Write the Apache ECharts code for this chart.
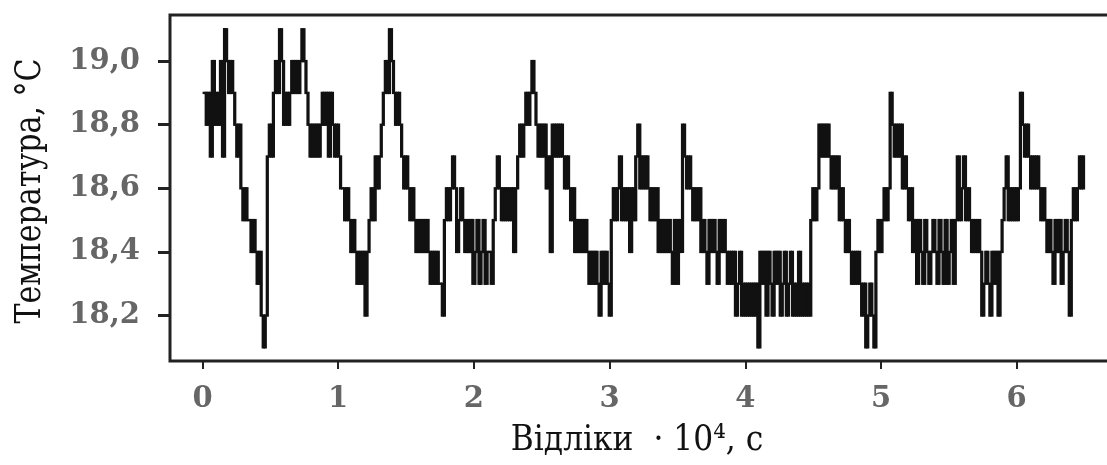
<!DOCTYPE html>
<html>
<head>
<meta charset="utf-8">
<script src="https://cdn.jsdelivr.net/npm/echarts@6/dist/echarts.min.js"></script>
<style>
  html, body { margin: 0; background: #fff; overflow: hidden; }
  /* wider than the window: the plot's right side runs past the edge */
  #chart { width: 1127px; height: 465px; }
</style>
</head>
<body>
<div id="chart"></div>
<script>
// x ticks (samples · 10^4, s) and y ticks (°C)
const xTicks = [0, 1, 2, 3, 4, 5, 6]
const yTicks = [18.2, 18.4, 18.6, 18.8, 19.0]

// readings are evenly spaced, first one at startTime
const startTime = 0.005
const sampleStep = 0.015

// temperature readings, °C (quantised to 0.1)
const temperature = [
  18.9, 18.8, 18.9, 18.7, 19.0, 18.8, 18.9, 18.8, 19.0, 18.7,
  19.1,
  19.0, 18.9, 19.0, 18.9,
  18.8, 18.7, 18.8,
  18.6, 18.5, 18.6, 18.5,
  18.5, 18.4, 18.5, 18.4,
  18.3, 18.4, 18.2, 18.1, 18.2,
  18.7, 18.8, 18.7,
  18.9, 19.0, 18.9, 19.1, 19.0,
  18.8, 18.9, 18.8, 18.9,
  19.0, 18.9, 19.0, 18.9, 19.0, 19.1,
  19.0, 18.9, 18.8,
  18.7, 18.8, 18.7, 18.8, 18.7,
  18.8, 18.9, 18.8, 18.9, 18.7, 18.9, 18.8,
  18.7, 18.8, 18.7, 18.6,
  18.6, 18.5, 18.6, 18.5,
  18.4, 18.5, 18.4,
  18.3, 18.4, 18.3, 18.4, 18.2,
  18.4, 18.5, 18.6, 18.5,
  18.7, 18.6, 18.7, 18.8,
  18.9, 19.0, 18.9, 19.1, 19.0,
  18.9, 18.8, 18.9, 18.8,
  18.7, 18.6, 18.7,
  18.6, 18.5, 18.6,
  18.5, 18.4, 18.5, 18.4, 18.5, 18.4, 18.5,
  18.4, 18.3, 18.4, 18.3, 18.4, 18.3,
  18.3, 18.2,
  18.5, 18.6, 18.5, 18.6,
  18.7,
  18.6, 18.4, 18.5, 18.6,
  18.5, 18.4, 18.5, 18.4, 18.5, 18.3, 18.4, 18.5, 18.3, 18.4, 18.5, 18.3, 18.4, 18.4,
  18.3,
  18.5, 18.6, 18.7, 18.6, 18.5,
  18.6, 18.5, 18.6, 18.5, 18.6, 18.4,
  18.6, 18.7, 18.8, 18.7,
  18.8, 18.9, 18.8, 18.9, 19.0, 18.9, 18.8,
  18.7, 18.8, 18.7, 18.8,
  18.6, 18.7,
  18.4,
  18.8, 18.7, 18.8, 18.7, 18.8, 18.7,
  18.6, 18.7, 18.6,
  18.5, 18.6, 18.4, 18.5,
  18.4, 18.5, 18.4, 18.5, 18.4, 18.3, 18.4, 18.3,
  18.4, 18.3, 18.2, 18.4, 18.3, 18.4, 18.3, 18.2,
  18.5, 18.6, 18.5, 18.6, 18.7, 18.5, 18.6, 18.5, 18.6, 18.4, 18.6, 18.5,
  18.7, 18.8, 18.6, 18.7, 18.6, 18.7, 18.6, 18.5, 18.6, 18.5, 18.6,
  18.4, 18.5, 18.4, 18.5, 18.4, 18.5, 18.4, 18.3, 18.5, 18.3,
  18.5, 18.4, 18.8,
  18.7, 18.6, 18.7, 18.6,
  18.5, 18.6, 18.5, 18.6,
  18.4, 18.5, 18.4, 18.3, 18.5, 18.4, 18.5, 18.4, 18.3, 18.5, 18.4, 18.5,
  18.4, 18.3, 18.4, 18.3, 18.4, 18.2, 18.3, 18.4, 18.2, 18.3,
  18.2, 18.3, 18.2, 18.3, 18.2, 18.3, 18.1,
  18.4, 18.3, 18.4, 18.2, 18.4, 18.3, 18.2, 18.4, 18.3, 18.4, 18.2, 18.3, 18.4,
  18.2, 18.3, 18.4, 18.2, 18.3, 18.2, 18.4, 18.2, 18.3, 18.2, 18.3, 18.2,
  18.5, 18.6, 18.5, 18.6,
  18.8, 18.7, 18.8, 18.7, 18.8, 18.7,
  18.6, 18.7, 18.6, 18.7,
  18.5, 18.6, 18.5,
  18.4, 18.5, 18.4,
  18.3, 18.4, 18.3, 18.4, 18.3,
  18.2, 18.3, 18.1, 18.2, 18.3, 18.2, 18.1,
  18.4, 18.5, 18.4, 18.5,
  18.6, 18.5, 18.6,
  18.9,
  18.8, 18.7, 18.8, 18.7, 18.8,
  18.6, 18.7, 18.6,
  18.5, 18.6,
  18.4, 18.5, 18.3, 18.5, 18.4, 18.3, 18.5, 18.4, 18.3, 18.4, 18.5,
  18.4, 18.3, 18.5, 18.4, 18.3, 18.5, 18.3, 18.4, 18.5, 18.3, 18.5,
  18.7, 18.5, 18.6, 18.7,
  18.5, 18.6, 18.5, 18.4, 18.5,
  18.4, 18.5, 18.4,
  18.2, 18.3, 18.4, 18.3, 18.2, 18.4, 18.3, 18.4, 18.2,
  18.4, 18.5,
  18.6, 18.7, 18.5, 18.6, 18.5, 18.6, 18.5, 18.6,
  18.9, 18.8, 18.7, 18.8, 18.7,
  18.6, 18.7, 18.6, 18.7, 18.6,
  18.5, 18.6, 18.5,
  18.4, 18.5, 18.4, 18.3, 18.5, 18.4, 18.5, 18.3, 18.4, 18.5, 18.4, 18.2,
  18.5, 18.6, 18.5,
  18.6, 18.7, 18.6, 18.7
]

const xTitle = 'Відліки  · 10⁴, с'
const yTitle = 'Температура, °С'

// [time, reading, previous reading] -> one step of the trace per sample
const points = temperature.map((v, i) => [
  startTime + i * sampleStep,
  v,
  i > 0 ? temperature[i - 1] : v,
])

const labelFont = {
  color: '#666',
  fontFamily: 'DejaVu Serif',
  fontWeight: 'bold',
  fontSize: 29,
}

// draws the vertical jump into the sample and the flat run after it
function renderStep(params, api) {
  const t = api.value(0)
  const v = api.value(1)
  const prev = api.value(2)
  const top = api.coord([t, Math.max(v, prev)])
  const bottom = api.coord([t, Math.min(v, prev)])
  const w = api.size([sampleStep, 0])[0]
  return {
    type: 'rect',
    shape: {
      x: top[0] - 0.6,
      y: top[1] - 1.2,
      width: w + 1.2,
      height: bottom[1] - top[1] + 2.4,
    },
    style: { fill: '#111' },
  }
}

const myChart = echarts.init(document.getElementById('chart'))
myChart.setOption({
  animation: false,
  backgroundColor: '#fff',
  grid: {
    left: 170,
    top: 15,
    right: 0,
    bottom: 104,
    show: true,
    borderColor: '#222',
    borderWidth: 3,
  },
  xAxis: {
    type: 'value',
    min: -0.2395,
    max: 6.813,
    splitLine: { show: false },
    axisLine: { show: false, onZero: false },
    axisTick: {
      show: true,
      length: 8,
      lineStyle: { color: '#222', width: 2 },
      customValues: xTicks,
    },
    axisLabel: {
      ...labelFont,
      margin: 24,
      customValues: xTicks,
    },
  },
  yAxis: {
    type: 'value',
    min: 18.057,
    max: 19.145,
    splitLine: { show: false },
    axisLine: { show: false, onZero: false },
    axisTick: {
      show: true,
      length: 12,
      lineStyle: { color: '#222', width: 3 },
      customValues: yTicks,
    },
    axisLabel: {
      ...labelFont,
      margin: 30,
      customValues: yTicks,
      formatter: (v) => v.toFixed(1).replace('.', ','),
    },
  },
  graphic: [
    {
      type: 'text',
      x: 637,
      y: 441,
      scaleX: 0.87,
      style: {
        text: xTitle,
        fill: '#111',
        font: '36px "DejaVu Serif"',
        align: 'center',
        verticalAlign: 'middle',
      },
    },
    {
      type: 'text',
      x: 31,
      y: 191,
      rotation: Math.PI / 2,
      scaleX: 0.86,
      style: {
        text: yTitle,
        fill: '#111',
        font: '35px "DejaVu Serif"',
        align: 'center',
        verticalAlign: 'middle',
      },
    },
  ],
  series: [
    {
      type: 'custom',
      renderItem: renderStep,
      data: points,
      silent: true,
      clip: true,
      encode: { x: 0, y: 1 },
    },
  ],
})
</script>
</body>
</html>
